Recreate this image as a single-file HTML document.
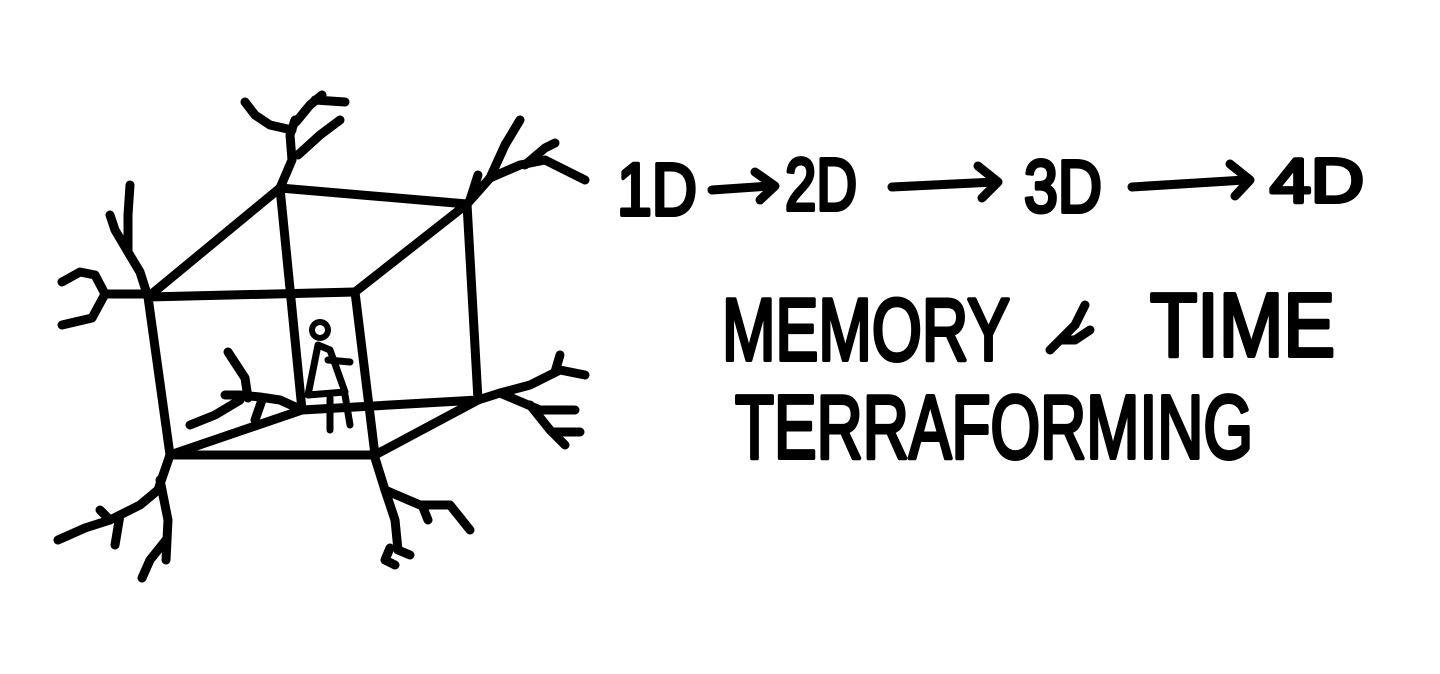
<!DOCTYPE html>
<html><head><meta charset="utf-8"><style>
html,body{margin:0;padding:0;background:#fff;width:1440px;height:674px;overflow:hidden}
svg{display:block}
text{font-family:"Liberation Sans",sans-serif;font-weight:normal;fill:#000;stroke:#000;stroke-width:4;stroke-linejoin:round}
</style></head><body>
<svg width="1440" height="674" viewBox="0 0 1440 674" xmlns="http://www.w3.org/2000/svg">
<g fill="none" stroke="#000" stroke-width="9" stroke-linecap="round" stroke-linejoin="round">
<path d="M148 297 L355 292 L375 455 L170 455 Z"/>
<path d="M280 188 L467 204 L478 400 L302 410 Z"/>
<path d="M148 297 L280 188"/>
<path d="M355 292 L467 204"/>
<path d="M170 455 L302 410"/>
<path d="M375 455 L478 400"/>
<path d="M280 188 L292 160 L290 135 L295 120"/>
<path d="M292 130 L270 125 L255 115 L245 102"/>
<path d="M296 122 L310 105 L322 95"/>
<path d="M315 100 L345 102"/>
<path d="M298 155 L320 135 L340 120"/>
<path d="M467 204 L490 178 L520 165 L545 160 L585 180"/>
<path d="M490 178 L505 145 L520 120"/>
<path d="M525 165 L545 148 L555 143"/>
<path d="M470 200 L478 175"/>
<path d="M148 297 L140 272 L128 252 L128 215 L130 185"/>
<path d="M128 252 L115 230 L110 215"/>
<path d="M144 294 L105 294 L95 275 L80 272 L62 282"/>
<path d="M105 294 L92 318 L62 325"/>
<path d="M478 400 L500 393 L530 385 L560 370 L585 375"/>
<path d="M555 372 L560 355"/>
<path d="M500 393 L540 410 L575 410"/>
<path d="M530 405 L550 430 L565 445"/>
<path d="M555 432 L580 432"/>
<path d="M170 455 L158 490 L140 505 L110 520 L85 528 L58 540"/>
<path d="M110 520 L100 510"/>
<path d="M120 515 L115 545"/>
<path d="M160 480 L168 520 L166 560"/>
<path d="M166 540 L150 560 L142 578"/>
<path d="M375 458 L385 490 L395 520 L398 550 L410 555"/>
<path d="M390 548 L385 560 L395 565"/>
<path d="M385 490 L420 505 L450 505 L470 530"/>
<path d="M422 505 L428 520"/>
<path d="M302 410 L280 400 L260 397 L240 395 L225 395"/>
<path d="M228 352 L245 378 L248 398"/>
<path d="M262 400 L255 420"/>
<path d="M240 400 L215 415 L190 425"/>
<circle cx="320" cy="330" r="8" stroke-width="6"/>
<path d="M318 345 L308 395 L345 392 L330 350 Z" stroke-width="7"/>
<path d="M328 360 L350 362" stroke-width="7"/>
<path d="M330 398 L330 430 M345 395 L350 425" stroke-width="7"/>
<path d="M712 190 L770 186"/>
<path d="M755 172 L775 186 L760 200"/>
<path d="M892 187 L995 182"/>
<path d="M978 166 L998 182 L982 198"/>
<path d="M1132 187 L1245 180"/>
<path d="M1230 164 L1250 180 L1235 196"/>
<path d="M1050 350 L1075 325 L1085 305 M1060 340 L1075 340 L1090 330"/>
</g>
<text x="617" y="215" font-size="74" textLength="80" lengthAdjust="spacingAndGlyphs">1D</text>
<text x="785" y="210" font-size="74" textLength="72" lengthAdjust="spacingAndGlyphs">2D</text>
<text x="1024" y="212" font-size="74" textLength="78" lengthAdjust="spacingAndGlyphs">3D</text>
<text x="1270" y="202" font-size="62" textLength="94" lengthAdjust="spacingAndGlyphs">4D</text>
<text x="722" y="360" font-size="88" textLength="288" lengthAdjust="spacingAndGlyphs">MEMORY</text>
<text x="1150" y="356" font-size="90" textLength="185" lengthAdjust="spacingAndGlyphs">TIME</text>
<text x="735" y="458" font-size="90" textLength="518" lengthAdjust="spacingAndGlyphs">TERRAFORMING</text>
</svg>
</body></html>
